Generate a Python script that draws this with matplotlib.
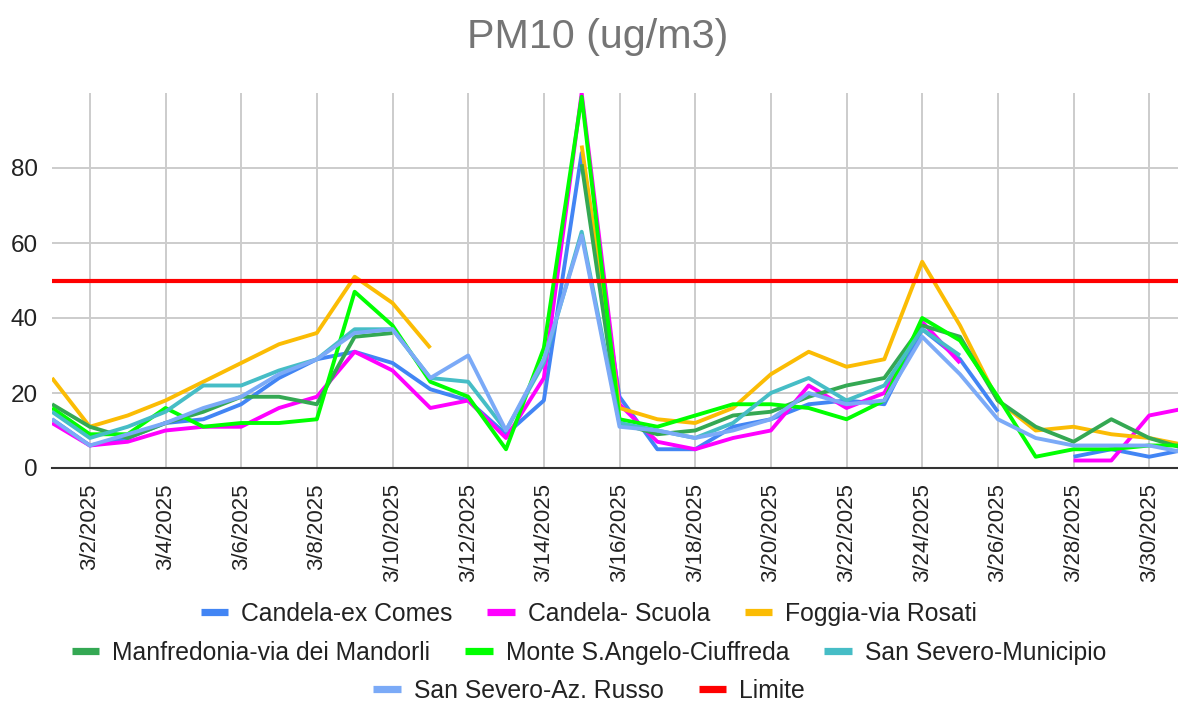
import numpy as np
import pandas as pd
import matplotlib
matplotlib.use("Agg")
import matplotlib.pyplot as plt
from matplotlib.lines import Line2D

plt.rcParams["font.family"] = ["Liberation Sans", "DejaVu Sans"]

nan = np.nan

# =========================
# Data (PM10 daily, March 2025)
# =========================

dates = pd.date_range("2025-03-01", "2025-03-31", freq="D")

candela_ex_comes = [13, 6, 8, 12, 13, 17, 24, 29, 31, 28, 21, 18, 9, 18, 84, 19,
                    5, 5, 11, 13, 17, 18, 17, 37, 29, 15, nan, 3, 5, 3, 5]
candela_scuola = [12, 6, 7, 10, 11, 11, 16, 19, 31, 26, 16, 18, 8, 24, 100, 17,
                  7, 5, 8, 10, 22, 16, 20, 39, 28, nan, nan, 2, 2, 14, 16]
foggia_rosati = [24, 11, 14, 18, 23, 28, 33, 36, 51, 44, 32, nan, nan, nan, 86, 16,
                 13, 12, 16, 25, 31, 27, 29, 55, 38, 18, 10, 11, 9, 8, 6]
manfredonia = [17, 11, 8, 12, 15, 19, 19, 17, 35, 36, nan, nan, nan, nan, 81, 12,
               9, 10, 14, 15, 19, 22, 24, 38, 35, 18, 11, 7, 13, 8, 5]
monte_s_angelo = [16, 9, 9, 16, 11, 12, 12, 13, 47, 38, 23, 19, 5, 32, 99, 13,
                  11, 14, 17, 17, 16, 13, 18, 40, 34, 19, 3, 5, 5, 6, 6]
san_severo_mun = [15, 8, 11, 15, 22, 22, 26, 29, 37, 37, 24, 23, 10, 28, 63, 12,
                  10, 8, 12, 20, 24, 18, 22, 37, 30, nan, nan, nan, nan, nan, nan]
san_severo_russo = [13, 6, 9, 12, 16, 19, 25, 29, 36, 37, 24, 30, 10, 29, 62, 11,
                    10, 8, 10, 13, 20, 17, 18, 35, 25, 13, 8, 6, 6, 6, 4]
limite = [50] * len(dates)

series = [
    ("Candela-ex Comes", candela_ex_comes, "#4285F4"),
    ("Candela- Scuola", candela_scuola, "#FF00FF"),
    ("Foggia-via Rosati", foggia_rosati, "#FBBC04"),
    ("Manfredonia-via dei Mandorli", manfredonia, "#34A853"),
    ("Monte S.Angelo-Ciuffreda", monte_s_angelo, "#00FF00"),
    ("San Severo-Municipio", san_severo_mun, "#46BDC6"),
    ("San Severo-Az. Russo", san_severo_russo, "#7BAAF7"),
    ("Limite", limite, "#FF0000"),
]

# =========================
# Plot
# =========================

W, H = 1178, 701
fig = plt.figure(figsize=(W / 100, H / 100), dpi=100)
ax = fig.add_axes([52 / W, 233 / H, (1187 - 52) / W, (468 - 93) / H])

for name, vals, color in series:
    lw = 3.0 if name == "Limite" else 2.8
    ax.plot(dates, vals, color=color, lw=lw, solid_joinstyle="round",
            solid_capstyle="butt", label=name, zorder=3)

ax.set_xlim(dates[0], dates[-1])
ax.set_ylim(0, 100)

xticks = dates[1::2]
ax.set_xticks(xticks)
ax.set_xticklabels([f"{d.month}/{d.day}/{d.year}" for d in xticks],
                   rotation=90, fontsize=16, color="#222222")
ax.set_yticks([0, 20, 40, 60, 80])
ax.set_yticklabels(["0", "20", "40", "60", "80"], fontsize=17.5, color="#222222")
ax.tick_params(axis="both", length=0)
ax.tick_params(axis="x", pad=11)
ax.tick_params(axis="y", pad=10)

ax.grid(True, color="#CCCCCC", lw=1.4)
ax.set_axisbelow(True)
for s in ["top", "right", "left"]:
    ax.spines[s].set_visible(False)
ax.spines["bottom"].set_color("#333333")
ax.spines["bottom"].set_linewidth(1.5)
ax.spines["bottom"].set_zorder(4)

fig.text(0.507, (H - 48) / H, "PM10 (ug/m3)", fontsize=29.7, color="#757575",
         ha="center", va="baseline")

# legend: three centred rows like the original
rows = [series[0:3], series[3:6], series[6:8]]
row_y = [614, 653, 691]
for row, y in zip(rows, row_y):
    handles = [Line2D([], [], color=c, lw=5.2, solid_capstyle="butt") for _, _, c in row]
    labels = [n for n, _, _ in row]
    leg = fig.legend(handles, labels, loc="center", bbox_to_anchor=(0.5, (H - y) / H),
                     ncol=len(row), frameon=False, fontsize=17.8, handlelength=1.1,
                     handletextpad=0.53, columnspacing=1.42, borderpad=0, borderaxespad=0)
    for t in leg.get_texts():
        t.set_color("#222222")

fig.savefig("out.png", dpi=100)
